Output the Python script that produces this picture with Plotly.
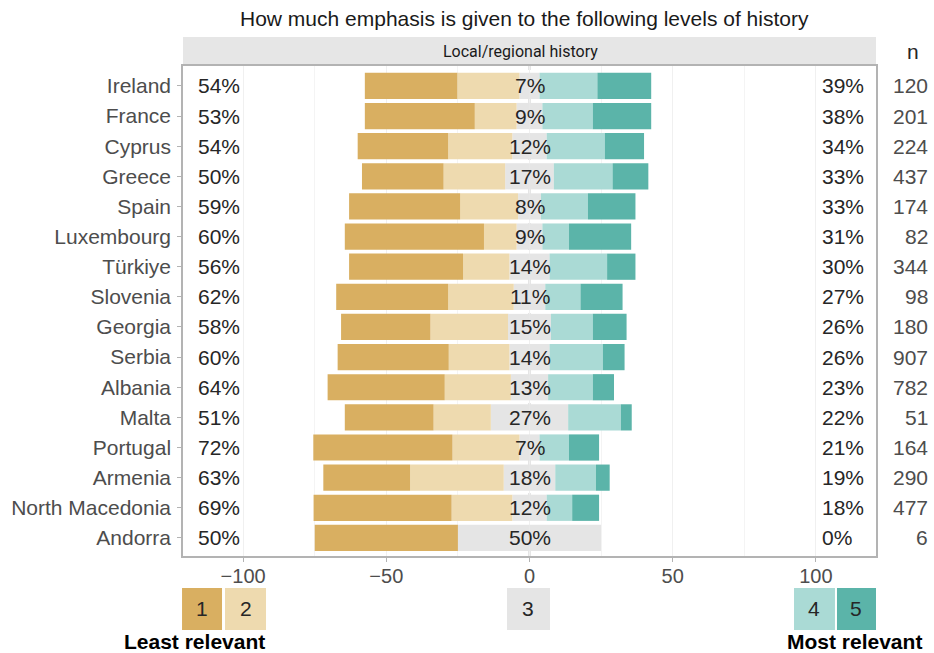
import plotly.graph_objects as go

# ---------------- data ----------------
countries = ["Ireland", "France", "Cyprus", "Greece", "Spain", "Luxembourg", "Türkiye",
             "Slovenia", "Georgia", "Serbia", "Albania", "Malta", "Portugal", "Armenia",
             "North Macedonia", "Andorra"]
lvl1 = [32.3, 38.4, 31.6, 28.5, 38.8, 48.6, 39.8, 39.1, 31.2, 38.8, 40.9, 31.0, 48.6, 30.3, 48.2, 50.0]
lvl2 = [21.7, 14.6, 22.4, 21.5, 20.2, 11.4, 16.2, 22.9, 27.1, 21.2, 23.1, 20.0, 23.4, 32.7, 21.2, 0.0]
lvl3 = [7, 9, 12, 17, 8, 9, 14, 11, 15, 14, 13, 27, 7, 18, 12, 50]
lvl4 = [20.2, 17.6, 20.3, 20.5, 16.4, 9.3, 20.1, 12.3, 14.6, 18.6, 15.6, 18.4, 10.3, 14.2, 8.9, 0.0]
lvl5 = [18.8, 20.4, 13.7, 12.5, 16.6, 21.7, 9.9, 14.7, 11.8, 7.6, 7.4, 3.8, 10.5, 4.8, 9.4, 0.0]
n_resp = [120, 201, 224, 437, 174, 82, 344, 98, 180, 907, 782, 51, 164, 290, 477, 6]
level_names = ["1", "2", "3", "4", "5"]
x_ticks = [-100, -50, 0, 50, 100]

title = "How much emphasis is given to the following levels of history"
strip_label = "Local/regional history"

# ---------------- style ----------------
col = {"1": "#D9AF61", "2": "#EEDAAF", "3": "#E5E5E5", "4": "#AADAD5", "5": "#5BB4A9"}
FONT = "Liberation Sans, Arial, sans-serif"
TXT = "#262626"
GREY = "#4D4D4D"
LBL = 21


def rnd(v):
    return int(v + 0.5)


fig = go.Figure()
bw = 0.87
common = dict(orientation="h", y=countries, width=bw, marker_line_width=0,
              hoverinfo="skip", showlegend=False)
# relative stacking: first the halves of level 3 around zero, then outwards
fig.add_trace(go.Bar(x=[-v / 2 for v in lvl3], marker_color=col["3"], **common))
fig.add_trace(go.Bar(x=[v / 2 for v in lvl3], marker_color=col["3"], **common))
fig.add_trace(go.Bar(x=[-v for v in lvl2], marker_color=col["2"], **common))
fig.add_trace(go.Bar(x=lvl4, marker_color=col["4"], **common))
fig.add_trace(go.Bar(x=[-v for v in lvl1], marker_color=col["1"], **common))
fig.add_trace(go.Bar(x=lvl5, marker_color=col["5"], **common))

ann = []
for i, c in enumerate(countries):
    left = rnd(lvl1[i] + lvl2[i])
    right = rnd(lvl4[i] + lvl5[i])
    ann.append(dict(x=-116.4, y=c, xref="x", yref="y", text=f"{left}%", showarrow=False,
                    xanchor="left", font=dict(size=LBL, color=TXT, family=FONT)))
    ann.append(dict(x=0, y=c, xref="x", yref="y", text=f"{lvl3[i]}%", showarrow=False,
                    xanchor="center", font=dict(size=LBL, color=TXT, family=FONT)))
    ann.append(dict(x=101.3, y=c, xref="x", yref="y", text=f"{right}%", showarrow=False,
                    xanchor="left", font=dict(size=LBL, color=TXT, family=FONT)))
    ann.append(dict(x=1.078, y=c, xref="paper", yref="y", text=str(n_resp[i]), showarrow=False,
                    xanchor="right", font=dict(size=LBL, color=GREY, family=FONT)))

# header texts
ann.append(dict(x=0.4935, y=1.097, xref="paper", yref="paper", text=title, showarrow=False,
                xanchor="center", yanchor="middle", font=dict(size=21, color="#1A1A1A", family=FONT)))
ann.append(dict(x=0.487, y=1.0296, xref="paper", yref="paper", text=strip_label, showarrow=False,
                xanchor="center", yanchor="middle",
                font=dict(size=16, color="#1A1A1A", family="Liberation Sans Narrow, Roboto, sans-serif")))
ann.append(dict(x=1.053, y=1.0306, xref="paper", yref="paper", text="n", showarrow=False,
                xanchor="center", yanchor="middle", font=dict(size=LBL, color=TXT, family=FONT)))

shapes = [
    dict(type="rect", xref="paper", yref="paper", x0=0, x1=1, y0=1.0, y1=1.0592,
         fillcolor="#E6E6E6", line_width=0, layer="below"),
    dict(type="line", xref="x", yref="paper", x0=0, x1=0, y0=0, y1=1,
         line=dict(color="#000000", width=1.2, dash="dash"), layer="below"),
]

# bottom legend boxes (paper coords)
boxes = [("1", -0.0014, 0.0563), ("2", 0.0606, 0.1198), ("3", 0.4675, 0.5296),
         ("4", 0.8817, 0.9408), ("5", 0.9437, 1.0)]
by0, by1 = -0.151, -0.0653
for lab, x0, x1 in boxes:
    shapes.append(dict(type="rect", xref="paper", yref="paper", x0=x0, x1=x1, y0=by0, y1=by1,
                       fillcolor=col[lab], line_width=0))
    ann.append(dict(x=(x0 + x1) / 2, y=(by0 + by1) / 2, xref="paper", yref="paper", text=lab,
                    showarrow=False, xanchor="center", yanchor="middle",
                    font=dict(size=LBL, color=TXT, family=FONT)))
ann.append(dict(x=(194.5 - 183) / 693, y=-0.1735, xref="paper", yref="paper",
                text="<b>Least relevant</b>", showarrow=False, xanchor="center", yanchor="middle",
                font=dict(size=21, color="#000000", family=FONT)))
ann.append(dict(x=(854.5 - 183) / 693, y=-0.1735, xref="paper", yref="paper",
                text="<b>Most relevant</b>", showarrow=False, xanchor="center", yanchor="middle",
                font=dict(size=21, color="#000000", family=FONT)))

fig.update_layout(
    width=934, height=653,
    margin=dict(l=183, r=58, t=66, b=97),
    paper_bgcolor="white", plot_bgcolor="white",
    barmode="relative", bargap=0.13,
    annotations=ann, shapes=shapes,
    font=dict(family=FONT, size=20, color=GREY),
    xaxis=dict(range=[-121, 121], tickvals=x_ticks, ticks="outside", ticklen=4,
               tickcolor="#B3B3B3", showgrid=True, gridcolor="#F0F0F0", gridwidth=1,
               minor=dict(tickvals=[-75, -25, 25, 75], showgrid=True, gridcolor="#F4F4F4", ticks=""),
               zeroline=False, showline=True, mirror=True, linecolor="#B3B3B3", linewidth=1.5,
               ticklabelstandoff=-3, automargin=False,
               tickfont=dict(size=20, color=GREY, family=FONT)),
    yaxis=dict(type="category", categoryorder="array", categoryarray=countries,
               range=[15.6, -0.66], ticks="outside", ticklen=4, tickcolor="#B3B3B3",
               showgrid=False, zeroline=False, showline=True, mirror=True,
               linecolor="#B3B3B3", linewidth=1.5, ticklabelstandoff=2, automargin=False,
               tickfont=dict(size=LBL, color=GREY, family=FONT)),
)

# remove the default 8px page margin so the 934x653 figure fills the window exactly
fig.write_html("out.html", config={"displayModeBar": False},
               post_script="document.body.style.margin='0';")
